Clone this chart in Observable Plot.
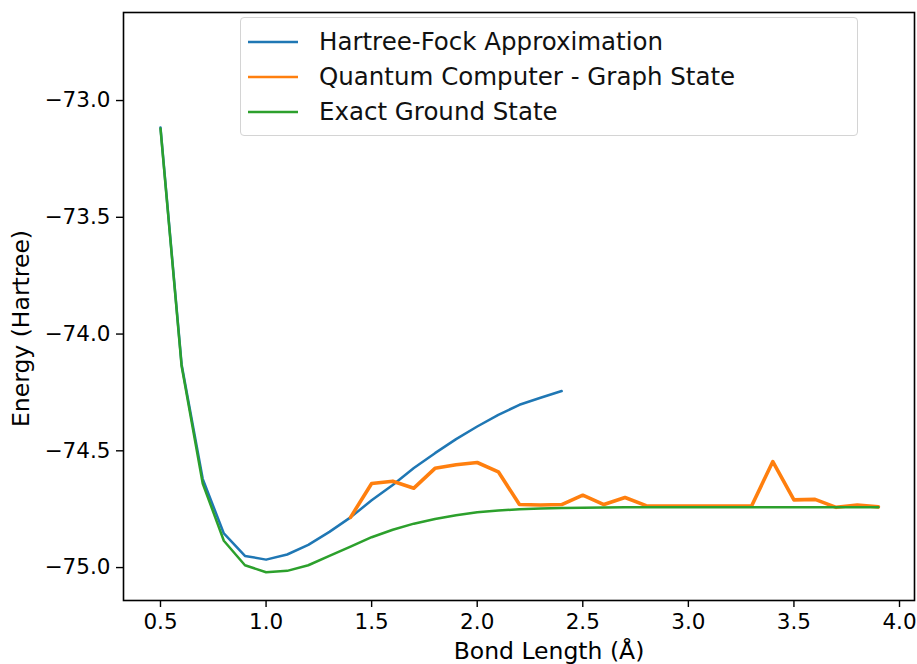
<!DOCTYPE html>
<html>
<head>
<meta charset="utf-8">
<script src="https://cdn.jsdelivr.net/npm/d3@7"></script>
<script src="https://cdn.jsdelivr.net/npm/@observablehq/plot@0.6"></script>
<style>
  html, body { margin: 0; padding: 0; background: #fff; }
  #wrap { position: relative; width: 917px; height: 664px; font-family: "DejaVu Sans", sans-serif; }
  #legend { position: absolute; left: 240px; top: 17px; width: 618px; height: 119px;
    border: 1px solid #d4d4d4; border-radius: 4px; background: rgba(255,255,255,0.8);
    box-sizing: border-box; padding-top: 6px; }
  .row { display: flex; align-items: center; height: 35px; font-size: 24.5px; color: #111; }
  .row svg { margin-left: 7px; margin-right: 21px; }
</style>
</head>
<body>
<div id="wrap"></div>
<script>
// Bond lengths (Å)
const bondLengths = [0.5,0.6,0.7,0.8,0.9,1.0,1.1,1.2,1.3,1.4,1.5,1.6,1.7,1.8,1.9,2.0,2.1,2.2,2.3,2.4,
  2.5,2.6,2.7,2.8,2.9,3.0,3.1,3.2,3.3,3.4,3.5,3.6,3.7,3.8,3.9];

// Hartree-Fock approximation: 0.5 .. 2.4
const hartreeFock = [-73.115,-74.13,-74.62,-74.854,-74.95,-74.966,-74.944,-74.903,-74.847,-74.785,
  -74.712,-74.646,-74.574,-74.51,-74.45,-74.396,-74.346,-74.303,-74.273,-74.244];

// Quantum computer - graph state: 1.4 .. 3.9
const quantumStart = 1.4;
const quantumGraph = [-74.785,-74.64,-74.63,-74.66,-74.575,-74.56,-74.55,-74.59,-74.73,-74.732,
  -74.73,-74.69,-74.73,-74.70,-74.735,-74.737,-74.737,-74.736,-74.737,-74.735,
  -74.546,-74.71,-74.708,-74.742,-74.732,-74.74];

// Exact ground state: 0.5 .. 3.9
const exactGround = [-73.12,-74.137,-74.64,-74.885,-74.99,-75.02,-75.014,-74.99,-74.95,-74.91,
  -74.87,-74.838,-74.812,-74.792,-74.776,-74.763,-74.756,-74.75,-74.747,-74.745,
  -74.744,-74.743,-74.742,-74.742,-74.742,-74.742,-74.742,-74.742,-74.742,-74.742,
  -74.742,-74.742,-74.742,-74.742,-74.742];

const xTicks = [0.5,1.0,1.5,2.0,2.5,3.0,3.5,4.0];
const yTicks = [-75.0,-74.5,-74.0,-73.5,-73.0];

const xLabel = "Bond Length (Å)";
const yLabel = "Energy (Hartree)";

const seriesNames = ["Hartree-Fock Approximation", "Quantum Computer - Graph State", "Exact Ground State"];
const seriesColors = ["#1f77b4", "#ff7f0e", "#2ca02c"];
const seriesWidths = [2.5, 3.6, 2.5];

const hfData = hartreeFock.map((e, i) => ({x: bondLengths[i], e}));
const qStartIdx = bondLengths.findIndex(b => Math.abs(b - quantumStart) < 1e-9);
const qData = quantumGraph.map((e, i) => ({x: bondLengths[qStartIdx + i], e}));
const exData = exactGround.map((e, i) => ({x: bondLengths[i], e}));

const fmt = d3.format(".1f");

const chart = Plot.plot({
  width: 917,
  height: 664,
  marginLeft: 123,
  marginRight: 3,
  marginTop: 12,
  marginBottom: 64,
  style: {fontFamily: "DejaVu Sans, sans-serif", fontSize: "21.5px", color: "#000", background: "#fff"},
  x: {domain: [0.3248, 4.071]},
  y: {domain: [-75.141, -72.623]},
  marks: [
    Plot.axisX({ticks: xTicks, tickFormat: fmt, tickSize: 7, tickPadding: 6, strokeWidth: 1.4, fontSize: 21.5,
      label: null}),
    Plot.axisY({ticks: yTicks, tickFormat: fmt, tickSize: 7, tickPadding: 6, strokeWidth: 1.4, fontSize: 21.5,
      label: null}),
    Plot.text([xLabel], {frameAnchor: "bottom", text: d => d, dx: 30, dy: 51, fontSize: 23.5,
      textAnchor: "middle", lineAnchor: "middle", fill: "#000"}),
    Plot.text([yLabel], {frameAnchor: "left", text: d => d, rotate: -90, dx: -102, dy: 22, fontSize: 23.5,
      textAnchor: "middle", lineAnchor: "middle", fill: "#000"}),
    Plot.lineY(hfData, {x: "x", y: "e", stroke: seriesColors[0], strokeWidth: seriesWidths[0]}),
    Plot.lineY(qData, {x: "x", y: "e", stroke: seriesColors[1], strokeWidth: seriesWidths[1]}),
    Plot.lineY(exData, {x: "x", y: "e", stroke: seriesColors[2], strokeWidth: seriesWidths[2]}),
    Plot.frame({stroke: "#000", strokeWidth: 1.6})
  ]
});

const wrap = document.getElementById("wrap");
wrap.appendChild(chart);

const legend = document.createElement("div");
legend.id = "legend";
seriesNames.forEach((name, i) => {
  const row = document.createElement("div");
  row.className = "row";
  row.innerHTML = `<svg width="50" height="10"><line x1="0" x2="50" y1="5" y2="5" stroke="${seriesColors[i]}" stroke-width="2.5"/></svg><span>${name}</span>`;
  legend.appendChild(row);
});
wrap.appendChild(legend);
</script>
</body>
</html>
